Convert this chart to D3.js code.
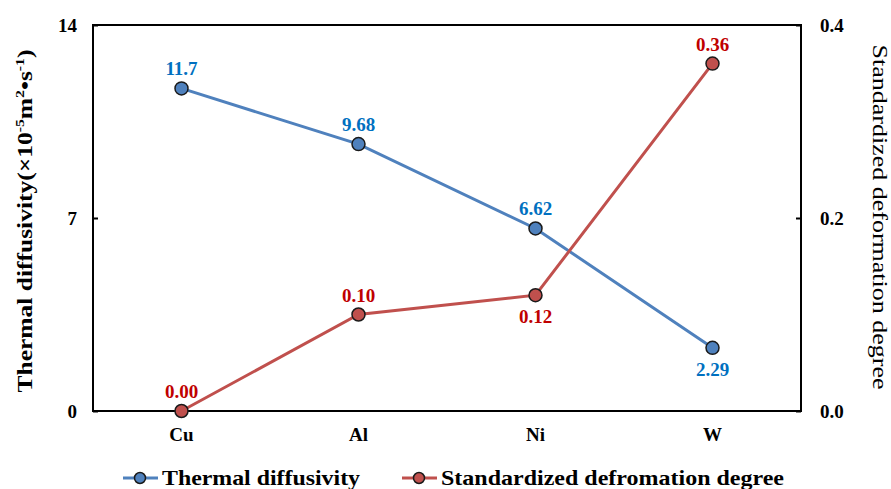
<!DOCTYPE html>
<html>
  <head>
    <meta charset="utf-8">
    <title>Thermal diffusivity vs deformation</title>
    <script src="https://cdn.jsdelivr.net/npm/d3@7"></script>
    <style>
      body { margin: 0; background: #fff; }
      text { font-family: "Liberation Serif", "Times New Roman", serif; }
    </style>
  </head>
  <body>
    <script type="text/javascript">
    var metals = ['Cu', 'Al', 'Ni', 'W'];
    var thermal = [11.7, 9.68, 6.62, 2.29];
    var deform = [0.00, 0.10, 0.12, 0.36];
    var thermalLabels = ['11.7', '9.68', '6.62', '2.29'];
    var deformLabels = ['0.00', '0.10', '0.12', '0.36'];
    // label above (-1) or below (+1) the point
    var thermalSide = [-1, -1, -1, 1];
    var deformSide = [-1, -1, 1, -1];
    var leftTicks = [0, 7, 14];
    var rightTicks = [0, 0.2, 0.4];

    var margin = {top: 25, right: 90, bottom: 78, left: 93},
        width = 891 - margin.left - margin.right,
        height = 489 - margin.top - margin.bottom;

    var blue = '#4f81bd', red = '#c0504d';
    var blueText = '#0070c0', redText = '#c00000';

    var svg = d3.select('body').append('svg')
        .attr('width', 891)
        .attr('height', 489)
      .append('g')
        .attr('transform', 'translate(' + margin.left + ',' + margin.top + ')');

    var x = d3.scaleBand().domain(metals).range([0, width]);
    var yL = d3.scaleLinear().domain([0, 14]).range([height, 0]);
    var yR = d3.scaleLinear().domain([0, 0.4]).range([height, 0]);
    var cx = function(i) { return x(metals[i]) + x.bandwidth() / 2; };

    // frame
    svg.append('rect')
        .attr('width', width).attr('height', height)
        .attr('fill', 'none').attr('stroke', '#000').attr('stroke-width', 2);

    // left axis
    var la = svg.append('g')
        .call(d3.axisLeft(yL).tickValues(leftTicks).tickSize(-5).tickPadding(16).tickFormat(d3.format('d')));
    la.select('.domain').remove();
    la.selectAll('line').attr('stroke-width', 2);
    la.selectAll('text').attr('font-size', 19).attr('font-weight', 'bold').attr('fill', '#000');

    // right axis
    var ra = svg.append('g')
        .attr('transform', 'translate(' + width + ',0)')
        .call(d3.axisRight(yR).tickValues(rightTicks).tickSize(-5).tickPadding(19).tickFormat(d3.format('.1f')));
    ra.select('.domain').remove();
    ra.selectAll('line').attr('stroke-width', 2);
    ra.selectAll('text').attr('font-size', 19).attr('font-weight', 'bold').attr('fill', '#000');

    // bottom category labels
    var ba = svg.append('g')
        .attr('transform', 'translate(0,' + height + ')')
        .call(d3.axisBottom(x).tickSize(0).tickPadding(17));
    ba.select('.domain').remove();
    ba.selectAll('text').attr('font-size', 19).attr('font-weight', 'bold').attr('fill', '#000');

    // axis titles
    var lt = svg.append('text')
        .attr('transform', 'translate(' + (-61) + ',' + (height / 2 + 3) + ') rotate(-90)')
        .attr('text-anchor', 'middle')
        .attr('font-size', 21).attr('font-weight', 'bold')
        .attr('textLength', 343).attr('lengthAdjust', 'spacingAndGlyphs');
    lt.append('tspan').text('Thermal diffusivity(\u00d710');
    lt.append('tspan').attr('font-size', 13).attr('dy', -8).text('-5');
    lt.append('tspan').attr('dy', 8).text('m');
    lt.append('tspan').attr('font-size', 13).attr('dy', -8).text('2');
    lt.append('tspan').attr('dy', 8).text('\u2022s');
    lt.append('tspan').attr('font-size', 13).attr('dy', -8).text('-1');
    lt.append('tspan').attr('dy', 8).text(')');

    svg.append('text')
        .attr('transform', 'translate(' + (width + 72) + ',' + (height / 2 - 1) + ') rotate(90)')
        .attr('text-anchor', 'middle')
        .attr('font-size', 20)
        .attr('textLength', 345).attr('lengthAdjust', 'spacingAndGlyphs')
        .text('Standardized deformation degree');

    function drawSeries(vals, y, color, labels, side, textColor) {
      var line = d3.line()
          .x(function(d, i) { return cx(i); })
          .y(function(d) { return y(d); });
      svg.append('path')
          .datum(vals)
          .attr('d', line)
          .attr('fill', 'none')
          .attr('stroke', color)
          .attr('stroke-width', 3);
      svg.selectAll(null)
          .data(vals)
          .enter().append('circle')
          .attr('cx', function(d, i) { return cx(i); })
          .attr('cy', function(d) { return y(d); })
          .attr('r', 6.5)
          .attr('fill', color)
          .attr('stroke', '#1a1a1a')
          .attr('stroke-width', 1.5);
      svg.selectAll(null)
          .data(vals)
          .enter().append('text')
          .attr('x', function(d, i) { return cx(i); })
          .attr('y', function(d, i) { return y(d) + (side[i] < 0 ? -13 : 28); })
          .attr('text-anchor', 'middle')
          .attr('font-size', 19).attr('font-weight', 'bold')
          .attr('fill', textColor)
          .text(function(d, i) { return labels[i]; });
    }

    drawSeries(thermal, yL, blue, thermalLabels, thermalSide, blueText);
    drawSeries(deform, yR, red, deformLabels, deformSide, redText);

    // legend
    var legend = svg.append('g')
        .attr('transform', 'translate(0,' + (height + 67) + ')');
    var items = [
      {name: 'Thermal diffusivity', color: blue, x: 30, len: 198},
      {name: 'Standardized defromation degree', color: red, x: 309, len: 343}
    ];
    items.forEach(function(it) {
      var g = legend.append('g').attr('transform', 'translate(' + it.x + ',0)');
      g.append('line').attr('x1', 0).attr('x2', 35).attr('stroke', it.color).attr('stroke-width', 3);
      g.append('circle').attr('cx', 17).attr('r', 5.5).attr('fill', it.color)
          .attr('stroke', '#1a1a1a').attr('stroke-width', 1.5);
      g.append('text').attr('x', 39).attr('y', 7)
          .attr('font-size', 22).attr('font-weight', 'bold')
          .attr('textLength', it.len).attr('lengthAdjust', 'spacingAndGlyphs')
          .text(it.name);
    });
    </script>
  </body>
</html>
